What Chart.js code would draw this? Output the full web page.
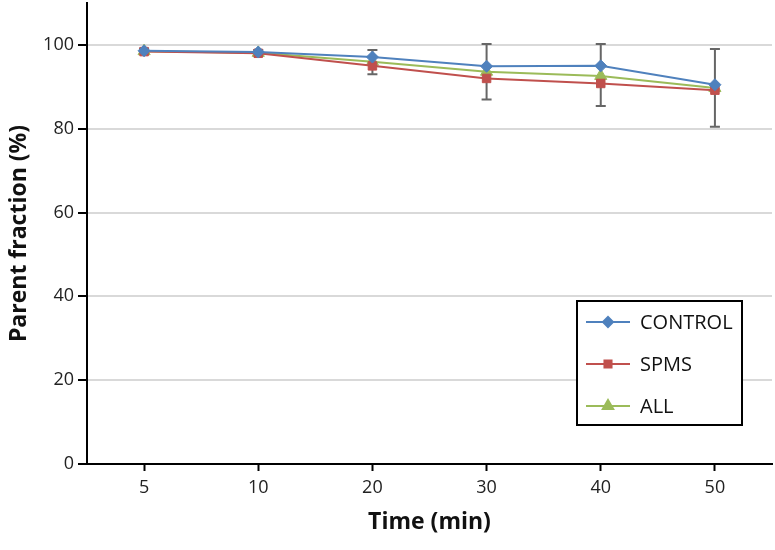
<!DOCTYPE html>
<html>
<head>
<meta charset="utf-8">
<script src="https://cdn.jsdelivr.net/npm/chart.js@4/dist/chart.umd.min.js"></script>
<style>
  html, body { margin: 0; padding: 0; background: #fff; }
  #wrap { width: 775px; height: 550px; }
</style>
</head>
<body>
<div id="wrap"><canvas id="c"></canvas></div>
<script>
  // values
  const times = ['5', '10', '20', '30', '40', '50'];
  const control = [98.6, 98.3, 97.1, 94.9, 95.0, 90.5];
  const spms = [98.4, 98.0, 95.0, 92.0, 90.8, 89.2];
  const all = [98.5, 98.1, 96.0, 93.6, 92.6, 89.7];
  // error bar ends (top / bottom)
  const errTop = [99.1, 98.8, 98.8, 100.2, 100.2, 99.0];
  const errBottom = [98.0, 97.6, 93.0, 87.0, 85.4, 80.5];

  const FONT = '"Open Sans", "Liberation Sans", sans-serif';

  const series = [
    { label: 'CONTROL', data: control, color: '#4f81bd', style: 'rectRot', r: 6 },
    { label: 'SPMS', data: spms, color: '#c0504d', style: 'rect', r: 6 },
    { label: 'ALL', data: all, color: '#9bbb59', style: 'triangle', r: 7 },
  ];

  // error bars, drawn below the lines
  const errorBars = {
    id: 'errorBars',
    beforeDatasetsDraw(chart) {
      const { ctx, scales: { x, y } } = chart;
      ctx.save();
      ctx.strokeStyle = '#666';
      ctx.lineWidth = 2;
      times.forEach((t, i) => {
        const px = x.getPixelForValue(i);
        const top = y.getPixelForValue(errTop[i]);
        const bot = y.getPixelForValue(errBottom[i]);
        ctx.beginPath();
        ctx.moveTo(px, top); ctx.lineTo(px, bot);
        ctx.moveTo(px - 5, top); ctx.lineTo(px + 5, top);
        ctx.moveTo(px - 5, bot); ctx.lineTo(px + 5, bot);
        ctx.stroke();
      });
      ctx.restore();
    }
  };

  // boxed legend inside the plot
  const boxLegend = {
    id: 'boxLegend',
    afterDraw(chart) {
      const { ctx } = chart;
      const bx = 577, by = 301, bw = 165, bh = 124;
      ctx.save();
      ctx.fillStyle = '#fff';
      ctx.fillRect(bx, by, bw, bh);
      ctx.strokeStyle = '#000';
      ctx.lineWidth = 2;
      ctx.strokeRect(bx, by, bw, bh);
      ctx.font = '20px ' + FONT;
      ctx.textBaseline = 'middle';
      series.forEach((s, i) => {
        const ly = by + 21 + i * 42;
        ctx.strokeStyle = s.color;
        ctx.lineWidth = 2;
        ctx.beginPath();
        ctx.moveTo(586, ly); ctx.lineTo(630, ly);
        ctx.stroke();
        ctx.fillStyle = s.color;
        Chart.helpers.drawPoint(ctx, { pointStyle: s.style, radius: s.r - 1, borderWidth: 1 }, 608, ly);
        ctx.fillStyle = '#111';
        ctx.fillText(s.label, 640, ly + 1);
      });
      ctx.restore();
    }
  };

  new Chart(document.getElementById('c'), {
    type: 'line',
    data: {
      labels: times,
      datasets: series.map(s => ({
        label: s.label,
        data: s.data,
        borderColor: s.color,
        backgroundColor: s.color,
        borderWidth: 2,
        pointStyle: s.style,
        pointRadius: s.r,
        pointBorderWidth: 1,
        tension: 0,
      })),
    },
    options: {
      responsive: true,
      maintainAspectRatio: false,
      animation: false,
      layout: { autoPadding: false, padding: { top: 3, right: 3, left: 0, bottom: 0 } },
      plugins: { legend: { display: false }, tooltip: { enabled: false } },
      scales: {
        x: {
          offset: true,
          grid: { display: true, drawOnChartArea: false, offset: false, tickLength: 7, tickColor: '#000', tickWidth: 2 },
          border: { color: '#000', width: 2 },
          ticks: { color: '#222', font: { family: FONT, size: 18 }, padding: 6 },
          title: { display: true, text: 'Time (min)', color: '#111', font: { family: FONT, size: 23, weight: 'bold' }, padding: { top: 0, bottom: 14 } },
          afterFit: (s) => { s.height = 86; s.paddingLeft = 0; s.paddingRight = 0; },
        },
        y: {
          min: 0,
          max: 110,
          afterBuildTicks: (s) => { s.ticks = s.ticks.filter(t => t.value <= 100); },
          grid: { color: '#d9d9d9', lineWidth: 2, tickColor: '#000', tickLength: 9, tickWidth: 2 },
          border: { color: '#000', width: 2 },
          ticks: { stepSize: 20, color: '#222', font: { family: FONT, size: 18 }, padding: 4 },
          title: { display: true, text: 'Parent fraction (%)', color: '#111', font: { family: FONT, size: 23, weight: 'bold' }, padding: { top: 6, bottom: 0 } },
          afterFit: (s) => { s.width = 87; s.paddingTop = 0; s.paddingBottom = 0; },
        },
      },
    },
    plugins: [errorBars, boxLegend],
  });
</script>
</body>
</html>
